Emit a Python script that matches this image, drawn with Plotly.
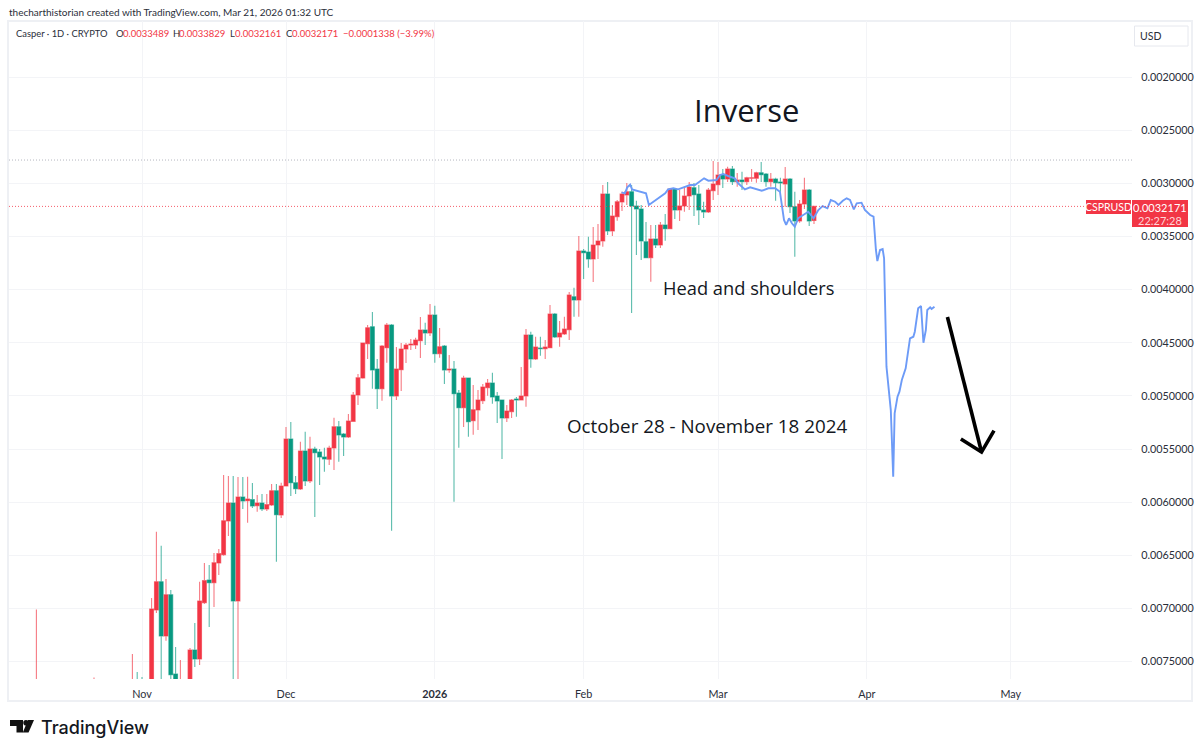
import numpy as np
import pandas as pd
import plotly.graph_objects as go

# Prices in units of 0.0001 USD
dates = ["2025-10-10", "2025-10-22"] + [d.strftime("%Y-%m-%d") for d in pd.date_range("2025-10-30", "2026-03-21")]
opens = [79,79,79,78,78,80,78.5,70.14,67.48,72.58,
68.70,76.16,79,80,78,73.90,74.75,69.45,67.32,67.57,
65.72,64.94,61.77,60.07,69.29,59.51,59.86,59.76,60.33,60.07,
60.64,60.26,58.92,61.20,58.48,54.05,58.17,58.76,55.18,58.0,
54.99,55.28,55.75,55.96,54.90,52.90,53.58,53.87,52.39,49.91,
48.31,45.09,43.49,47.47,49.32,45.46,43.33,50.01,47.53,45.59,
45.21,45.21,44.81,43.80,44.08,42.39,46.03,45.30,47.56,47.47,
49.73,51.11,48.31,52.33,51.33,50.45,49.23,48.79,50.01,50.38,
52.08,51.49,50.29,50.38,50.01,44.27,46.53,45.49,45.56,45.46,
42.29,44.46,44.18,43.77,40.67,40.98,36.37,36.46,37.12,35.80,
35.43,31.01,34.49,33.14,31.76,31.10,30.79,32.14,32.42,35.49,
37.0,35.24,35.80,33.92,34.27,30.54,32.51,32.14,31.19,30.41,
31.01,32.51,32.70,30.70,30.13,29.19,29.60,28.65,29.85,29.69,
29.85,29.53,29.53,29.0,29.12,29.85,29.60,29.88,30.07,29.60,
32.20,33.55,31.95,30.63,33.489]
closes = [78,78,78,79,79,79,70.05,67.48,72.58,68.70,
76.23,78,78,79,73.90,74.75,69.29,67.38,67.57,65.69,
64.84,61.74,60.07,69.29,59.51,59.89,59.70,60.36,60.07,60.64,
60.23,58.92,61.17,58.48,54.05,58.17,58.73,55.18,58.0,54.99,
55.34,55.75,55.94,54.90,52.90,53.68,53.87,52.36,49.91,48.29,
45.02,43.58,47.56,49.32,45.30,43.33,50.01,47.47,45.59,45.21,
45.12,44.74,43.80,44.08,42.39,46.03,45.37,47.56,47.47,49.79,
51.11,48.31,52.43,51.30,50.38,49.16,48.79,50.10,50.48,52.08,
51.42,50.38,50.38,50.01,44.27,46.53,45.40,45.56,45.40,42.29,
44.46,44.08,43.71,40.51,40.98,36.37,36.53,37.12,35.80,35.43,
31.01,34.49,33.08,31.73,31.01,30.79,32.14,32.42,35.43,37.0,
35.24,35.80,33.92,34.27,30.54,32.51,32.14,31.19,30.35,31.07,
32.51,32.70,30.63,30.07,29.22,29.60,28.65,29.85,29.69,29.85,
29.47,29.47,29.0,29.19,29.85,29.60,29.94,29.97,29.60,32.20,
33.55,31.95,30.63,33.55,32.171]
highs = [80,80,80,80,80,81,80,70.42,78,73.03,
78,79,80,81,79,75.50,75.31,69.58,71.74,69.86,
66.85,65.03,63.18,78,78,60.64,61.93,60.54,60.89,60.83,
60.83,60.36,65.59,61.49,58.48,59.42,59.23,58.85,58.48,58.19,
61.39,58.38,57.13,56.50,56.97,56.19,55.65,53.96,52.39,50.85,
48.38,46.53,49.32,51.23,50.45,46.88,62.68,50.38,49.54,46.90,
45.68,45.59,46.43,45.21,44.36,46.88,46.40,48.88,47.82,59.95,
54.87,52.92,53.84,53.65,53.21,50.76,49.98,50.73,52.55,55.93,
52.45,52.08,51.96,50.38,51.01,47.35,46.62,46.22,46.53,45.46,
44.55,45.37,44.27,44.74,42.55,42.55,39.0,37.94,39.28,37.12,
35.96,34.86,34.96,33.52,32.61,32.04,42.20,36.74,37.21,37.0,
39.26,36.09,36.09,35.40,34.27,33.36,33.55,32.67,32.51,33.08,
33.92,33.26,32.79,31.57,31.10,30.44,29.88,30.16,30.32,30.63,
30.16,29.85,29.94,29.88,30.32,30.32,31.64,30.79,32.20,32.79,
36.90,33.71,32.42,34.02,33.829]
lows = [70.1,76.5,74.28,75.97,76.44,78,69.01,62.77,64.09,67.22,
68.26,73.62,74.84,78,73.71,71.36,67.48,65.72,65.91,64.78,
64.40,57.44,57.53,57.53,57.63,57.63,57.60,58.19,59.32,59.23,
59.23,58.29,58.29,58.17,52.92,52.45,57.53,54.31,53.37,53.84,
54.78,54.99,54.87,54.68,52.05,52.36,53.49,51.70,49.63,47.94,
45.02,43.33,42.11,46.53,45.21,43.14,43.24,45.40,45.02,45.02,
44.65,44.52,42.58,43.11,41.35,41.51,43.61,45.21,46.15,46.72,
49.44,48.10,48.29,48.97,49.44,48.88,48.41,47.82,49.63,50.38,
50.85,50.29,50.10,47.28,43.71,43.96,44.43,44.43,44.74,41.45,
42.20,42.95,42.55,40.23,39.82,34.96,36.18,35.02,34.11,33.83,
30.16,29.88,32.04,31.57,30.79,29.97,30.16,31.64,32.04,33.64,
33.92,33.92,33.64,32.89,30.44,30.44,30.63,30.44,29.88,29.97,
30.16,31.73,30.44,27.90,28.0,28.65,28.44,28.37,29.03,28.91,
29.38,28.65,28.91,28.0,29.03,29.03,29.47,29.47,28.47,29.50,
30.79,31.57,29.47,30.54,32.161]

# Projected path: days since 2025-11-01, price in units of 0.0001
proj_days = [99.9,100.6,101.1,101.7,102.1,103.1,104.1,105,105.6,106.5,107.9,109,109.6,110.7,111.7,113.1,114.2,115.2,116.25,117.1,118,119.7,
120.4,121.1,122.1,123.5,124.2,125.6,126.7,128.1,129.1,130.5,131.9,132.9,133.6,133.75,134.2,134.8,135.4,136,136.7,137.8,138.8,139.9,140.9,141.8,142.8,143.5,144.4,145.1,146,146.8,147.5,148.3,148.9,149.9,150.6,151.7,152.4,
152.9,153.2,153.75,154.3,154.6,154.8,155.1,156,156.5,156.8,157.4,157.8,158.3,159.1,160,160.7,161,161.7,162.3,162.8,163.3,163.6,164.2,164.5,165.1]
proj_price = [30.85,30.94,30.38,30.13,30.57,30.70,30.88,30.94,32.04,31.73,31.32,30.94,30.57,30.47,30.57,30.38,30.16,30.16,29.85,29.53,29.75,29.69,
29.22,29.12,29.31,29.53,30.0,30.57,30.38,30.57,30.70,30.47,30.47,30.79,32.67,33.45,33.92,33.29,33.76,34.08,33.29,32.98,32.67,33.29,32.51,32.14,32.35,31.57,31.73,32.04,31.64,31.41,31.57,32.45,31.88,31.82,32.51,32.98,33.14,
36.27,37.31,36.27,36.18,37.05,41.61,47.25,51.33,57.60,51.64,50.07,49.60,48.50,47.40,44.58,44.43,43.96,41.76,41.54,45.0,43.80,41.92,41.66,41.82,41.61]

# Drawn arrow: same units
arrow_days = [167.8, 174.9, None, 170.6, 174.9, 177.5]
arrow_price = [42.58, 55.28, None, 54.05, 55.28, 53.27]

month_ticks = ["2025-11-01","2025-12-01","2026-01-01","2026-02-01","2026-03-01","2026-04-01","2026-05-01"]
month_labels = ["Nov","Dec","<b>2026</b>","Feb","Mar","Apr","May"]
price_ticks = [0.0020,0.0025,0.0030,0.0035,0.0040,0.0045,0.0050,0.0055,0.0060,0.0065,0.0070,0.0075]

UNIT = 1e-4
GREEN, RED = "#089981", "#F23645"
FONT = "Open Sans"
UI_FONT = "Lato"
origin = pd.Timestamp("2025-11-01")
def to_dates(days):
    return [None if d is None else origin + pd.to_timedelta(d, unit="D") for d in days]
def scale(vals):
    return [None if v is None else v * UNIT for v in vals]

L, R, T, B = 9, 1132, 21, 679
def px(x): return (x - L) / (R - L)
def py(y): return 1 - (y - T) / (B - T)

fig = go.Figure()
fig.add_trace(go.Candlestick(
    x=dates, open=scale(opens), high=scale(highs), low=scale(lows), close=scale(closes),
    increasing=dict(line=dict(color="rgba(8,153,129,0.66)", width=1.1), fillcolor=GREEN),
    decreasing=dict(line=dict(color="rgba(242,54,69,0.66)", width=1.1), fillcolor=RED),
    whiskerwidth=0, showlegend=False, hoverinfo="skip"))
fig.add_trace(go.Scatter(x=to_dates(proj_days), y=scale(proj_price), mode="lines",
    line=dict(color="#6d9bf7", width=1.9), showlegend=False, hoverinfo="skip"))
fig.add_trace(go.Scatter(x=to_dates(arrow_days), y=scale(arrow_price), mode="lines",
    line=dict(color="#000000", width=3.6), showlegend=False, hoverinfo="skip", connectgaps=False))

shapes = [
    dict(type="rect", xref="paper", yref="paper", x0=px(8), x1=px(1192), y0=py(21), y1=py(701),
         line=dict(color="#eef0f4", width=2), layer="below"),
    dict(type="line", xref="paper", yref="y", x0=0, x1=1, y0=0.002781, y1=0.002781,
         line=dict(color="#b4b7bf", width=1, dash="1px,2px")),
    dict(type="line", xref="paper", yref="y", x0=0, x1=px(1086), y0=0.0032171, y1=0.0032171,
         line=dict(color="rgba(242,54,69,0.8)", width=1, dash="1px,2px")),
    dict(type="rect", xref="paper", yref="paper", x0=px(1086), x1=px(1131), y0=py(200), y1=py(214),
         fillcolor=RED, line=dict(width=0)),
    dict(type="rect", xref="paper", yref="paper", x0=px(1132), x1=px(1188), y0=py(200), y1=py(227),
         fillcolor=RED, line=dict(width=0)),
    dict(type="rect", xref="paper", yref="paper", x0=px(1134.5), x1=px(1188), y0=py(26), y1=py(46),
         fillcolor="white", line=dict(color="#e6e8ee", width=1)),
    # logo
    dict(type="path", xref="paper", yref="paper", fillcolor="#111111", line=dict(width=0),
         path=f"M {px(10)} {py(720)} L {px(23)} {py(720)} L {px(23)} {py(732.5)} L {px(16.5)} {py(732.5)} L {px(16.5)} {py(726)} L {px(10)} {py(726)} Z"),
    dict(type="circle", xref="paper", yref="paper", fillcolor="#111111", line=dict(width=0),
         x0=px(23.3), x1=px(28.7), y0=py(720), y1=py(725.6)),
    dict(type="path", xref="paper", yref="paper", fillcolor="#111111", line=dict(width=0),
         path=f"M {px(28)} {py(720)} L {px(34)} {py(720)} L {px(28.5)} {py(732.5)} L {px(22.8)} {py(732.5)} Z"),
]

def note(text, x, y, size, color="#131722", anchor="left", family=FONT, weight=None):
    f = dict(family=family, size=size, color=color)
    if weight:
        f["weight"] = weight
    return dict(text=text, xref="paper", yref="paper", x=px(x), y=py(y), xanchor=anchor, yanchor="middle",
                showarrow=False, font=f, borderpad=0)

DARK = "#2a2e39"
annotations = [
    note("thecharthistorian created with TradingView.com, Mar 21, 2026 01:32 UTC", 8, 12, 10, DARK, family=UI_FONT),
    note("Casper · 1D · CRYPTO", 15, 34, 9.4, DARK, family=UI_FONT),
    note("O", 115, 34, 9.5, DARK, family=UI_FONT),
    note("0.0033489", 122, 34, 9.5, RED, family=UI_FONT),
    note("H", 172, 34, 9.5, DARK, family=UI_FONT),
    note("0.0033829", 178, 34, 9.5, RED, family=UI_FONT),
    note("L", 229, 34, 9.5, DARK, family=UI_FONT),
    note("0.0032161", 234, 34, 9.5, RED, family=UI_FONT),
    note("C", 285, 34, 9.5, DARK, family=UI_FONT),
    note("0.0032171", 291, 34, 9.5, RED, family=UI_FONT),
    note("−0.0001338 (−3.99%)", 342, 34, 9.5, RED, family=UI_FONT),
    note("Inverse", 746.5, 110, 31, "#131722", "center"),
    note("Head and shoulders", 749, 287, 18.3, "#131722", "center"),
    note("October 28 - November 18 2024", 707, 426, 18.8, "#131722", "center"),
    note("USD", 1150, 36, 10.5, DARK, "center", family=UI_FONT),
    note("CSPRUSD", 1108.5, 207, 10.5, "white", "center", family=UI_FONT),
    note("0.0032171", 1160, 207, 11, "white", "center", family=UI_FONT),
    note("22:27:28", 1160, 220, 11, "#ffd5d8", "center", family=UI_FONT),
    note("TradingView", 40, 727, 18, "#131722", family="Inter", weight=500),
]

axis_font = dict(family=UI_FONT, size=10.8, color=DARK)
fig.update_layout(
    width=1200, height=751, autosize=False,
    margin=dict(l=L, r=1200 - R, t=T, b=751 - B, pad=0, autoexpand=False),
    paper_bgcolor="white", plot_bgcolor="white", showlegend=False, boxgap=0.2, boxgroupgap=0,
    shapes=shapes, annotations=annotations,
    font=dict(family=UI_FONT, size=11, color=DARK),
    xaxis=dict(type="date", range=["2025-10-04 07:00", "2026-05-26 06:00"], rangeslider=dict(visible=False),
               automargin=False, tickmode="array", tickvals=month_ticks, ticktext=month_labels,
               showgrid=True, gridcolor="#f3f4f7", gridwidth=1, zeroline=False, showline=False,
               ticks="outside", ticklen=5, tickcolor="rgba(0,0,0,0)", tickfont=axis_font),
    yaxis=dict(side="right", range=[0.007663, 0.001473], tickmode="array", tickvals=price_ticks,
               automargin=False, ticktext=[f"{v:.7f}" for v in price_ticks],
               showgrid=True, gridcolor="#f3f4f7", gridwidth=1, zeroline=False, showline=False,
               ticks="outside", ticklen=6, tickcolor="rgba(0,0,0,0)", tickfont=axis_font),
)
fig.write_html("out.html", config=dict(displayModeBar=False),
               post_script="document.body.style.margin='0';document.documentElement.style.overflow='hidden';")
